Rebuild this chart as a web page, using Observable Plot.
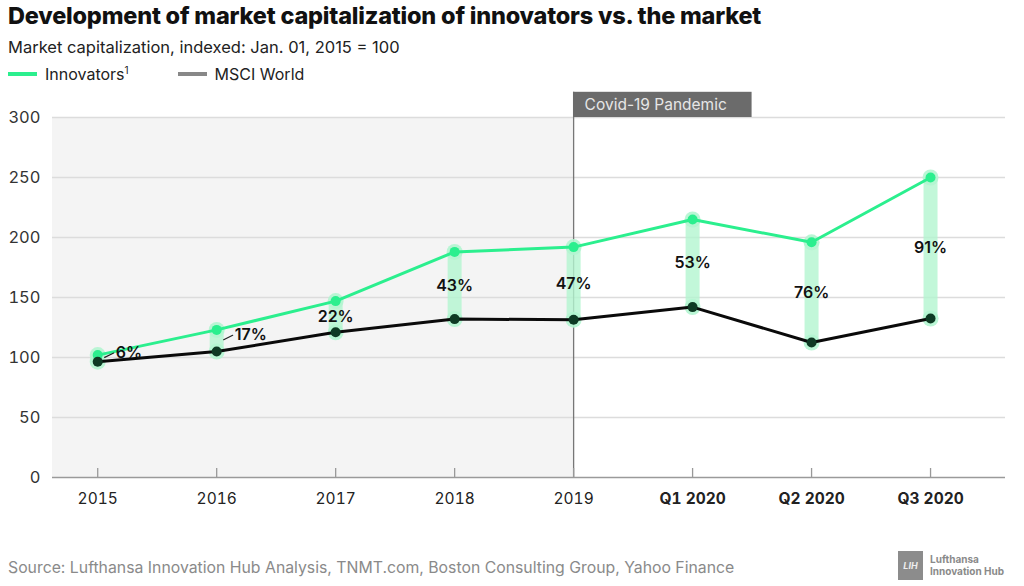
<!DOCTYPE html>
<html><head><meta charset="utf-8">
<script src="https://cdn.jsdelivr.net/npm/d3@7"></script>
<script src="https://cdn.jsdelivr.net/npm/@observablehq/plot@0.6"></script>
<style>
body{margin:0;background:#fff;font-family:Inter,"Liberation Sans",sans-serif;width:1024px;height:586px;overflow:hidden;position:relative;}
#title{position:absolute;left:8px;top:1px;font-size:23.5px;font-weight:800;color:#111;letter-spacing:-0.2px;white-space:nowrap;}
#sub{position:absolute;left:8px;top:37px;font-size:16.5px;color:#222;white-space:nowrap;}
#legend{position:absolute;left:8px;top:64px;font-size:16px;color:#222;display:flex;align-items:center;white-space:nowrap;}
.sw{display:inline-block;width:29px;height:4px;margin-right:8px;}
#chart{position:absolute;left:0;top:90px;}
#foot{position:absolute;left:8px;top:558px;font-size:15.8px;color:#8a8a8a;white-space:nowrap;}
#logo{position:absolute;left:898px;top:551px;width:25px;height:29px;background:#8c8c8c;color:#eee;font-size:9px;font-style:italic;font-weight:700;display:flex;align-items:center;justify-content:center;}
#logotext{position:absolute;left:930px;top:553px;font-size:10px;font-weight:700;color:#8a8a8a;line-height:12px;}
</style></head>
<body>
<div id="title">Development of market capitalization of innovators vs. the market</div>
<div id="sub">Market capitalization, indexed: Jan. 01, 2015 = 100</div>
<div id="legend"><span class="sw" style="background:#2bef8e"></span><span>Innovators<sup style="font-size:10px">1</sup></span><span class="sw" style="background:#888;margin-left:49px"></span><span>MSCI World</span></div>
<div id="chart"></div>
<div id="foot">Source: Lufthansa Innovation Hub Analysis, TNMT.com, Boston Consulting Group, Yahoo Finance</div>
<div id="logo">LIH</div>
<div id="logotext">Lufthansa<br>Innovation Hub</div>
<script>
const categories = ["2015","2016","2017","2018","2019","Q1 2020","Q2 2020","Q3 2020"];
const innovators = [102, 123, 147, 188, 192, 215, 196, 250];
const msci = [96.5, 105, 121, 132, 131.5, 142, 112.5, 132.5];
const premium = ["6%","17%","22%","43%","47%","53%","76%","91%"];
const yTicks = [0, 50, 100, 150, 200, 250, 300];
const eventCategory = "2019";
const eventLabel = "Covid-19 Pandemic";

const GREEN = "#2bef8e", HALO = "#b3f5d0", DARK = "#0e3a24";
const data = categories.map((c, i) => ({i, c, inn: innovators[i], msci: msci[i], pct: premium[i]}));
const ev = categories.indexOf(eventCategory);
const yMax = yTicks[yTicks.length - 1];
const side = data.filter(d => d.inn - d.msci < 20);
const mid = data.filter(d => d.inn - d.msci >= 20);
const years = data.filter(d => !d.c.startsWith("Q"));
const quarters = data.filter(d => d.c.startsWith("Q"));
const leader = {draw(ctx, l) { ctx.moveTo(0, 0); ctx.lineTo(0, -l); }};

const chart = Plot.plot({
  width: 1024, height: 430,
  marginLeft: 52, marginRight: 19, marginTop: 27, marginBottom: 43,
  style: {fontFamily: "Inter, 'Liberation Sans', sans-serif", background: "transparent"},
  x: {type: "linear", domain: [-0.38, 7.63], axis: null},
  y: {domain: [0, yMax], axis: null},
  marks: [
    Plot.rect([{}], {x1: -0.38, x2: ev, y1: 0, y2: yMax, fill: "#f4f4f4"}),
    Plot.ruleY(yTicks.slice(1), {stroke: "#dcdcdc", strokeWidth: 1.5}),
    Plot.ruleX([ev], {y1: 0, y2: yMax * 1.07, stroke: "#777", strokeWidth: 1.3, clip: false}),
    Plot.rect([{}], {x1: ev, x2: ev + 1.5, y1: yMax, y2: yMax * 1.07, fill: "#6b6b6b"}),
    Plot.text([eventLabel], {x: ev, y: yMax * 1.035, dx: 11, text: d => d, textAnchor: "start", fill: "#e6e6e6", fontSize: 15.5}),
    Plot.ruleY([0], {stroke: "#9a9a9a", strokeWidth: 1.5}),
    Plot.axisY(yTicks, {tickSize: 0, tickPadding: 12, fontSize: 16.5, fill: "#333", tickFormat: d => d, label: null}),
    Plot.axisX(years.map(d => d.i), {tickSize: 0, tickPadding: 15, fontSize: 15.5, fill: "#222", tickFormat: i => categories[i], label: null}),
    Plot.axisX(quarters.map(d => d.i), {tickSize: 0, tickPadding: 15, fontSize: 15.5, fontWeight: 700, fill: "#222", tickFormat: i => categories[i], label: null}),
    Plot.axisX(data.map(d => d.i), {tickSize: 9, dy: -9, text: null, stroke: "#999", strokeWidth: 1.3, label: null}),
    Plot.ruleX(data, {x: "i", y1: "msci", y2: "inn", stroke: HALO, strokeWidth: 14, strokeOpacity: 0.8}),
    Plot.dot(data, {x: "i", y: "inn", r: 8, fill: HALO, fillOpacity: 0.9}),
    Plot.dot(data, {x: "i", y: "msci", r: 8, fill: HALO, fillOpacity: 0.9}),
    Plot.line(data, {x: "i", y: "msci", stroke: "#0a0a0a", strokeWidth: 3}),
    Plot.line(data, {x: "i", y: "inn", stroke: GREEN, strokeWidth: 3}),
    Plot.dot(data, {x: "i", y: "inn", r: 5, fill: GREEN}),
    Plot.dot(data, {x: "i", y: "msci", r: 5, fill: DARK}),
    Plot.text(mid, {x: "i", y: d => (d.inn + d.msci) / 2, text: "pct", fontSize: 16, fontWeight: 600, fill: "#111"}),
    Plot.vector(side, {x: "i", y: d => (d.inn + d.msci) / 2, dx: 7, dy: -1, length: 10, rotate: 64, anchor: "start", shape: leader, stroke: "#222", strokeWidth: 1.2}),
    Plot.text(side, {x: "i", y: d => (d.inn + d.msci) / 2, text: "pct", dx: 18, dy: -6, textAnchor: "start", fontSize: 16, fontWeight: 600, fill: "#111"})
  ]
});
document.getElementById("chart").appendChild(chart);
</script>
</body></html>
